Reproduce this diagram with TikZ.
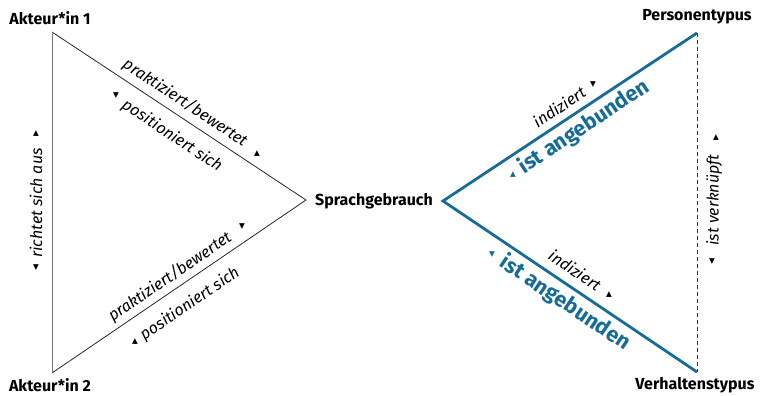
\documentclass[tikz,border=0pt]{standalone}
\usepackage{fontspec}
\setmainfont{Fira Sans}
\newfontfamily\symfont{DejaVu Sans}
\definecolor{linkblue}{RGB}{22,108,152}
\begin{document}
\begin{tikzpicture}[x=1pt,y=-1pt,
  vertex/.style={font=\bfseries\fontsize{16}{18}\selectfont, inner sep=0pt},
  thinedge/.style={draw=black!85, line width=0.8pt},
  blueedge/.style={draw=linkblue, line width=2.8pt},
  linkedge/.style={draw=black!80, line width=0.8pt, dash pattern=on 4pt off 3pt},
  rel/.style={font=\itshape\fontsize{16}{18}\selectfont, inner sep=0pt},
  bluerel/.style={font=\bfseries\fontsize{21.5}{24}\selectfont, text=linkblue, inner sep=0pt},
  tri/.style={font=\symfont\fontsize{7.5}{8}\selectfont, inner sep=0pt},
]
\useasboundingbox (0,0) rectangle (761,396);

% triangle corners
\coordinate (v1) at (52,32);
\coordinate (v2) at (52,373);
\coordinate (v3) at (306,200);
% angle corners
\coordinate (w0) at (443,201);
\coordinate (w1) at (697,33);
\coordinate (w2) at (697,372);

% actors and language use
\draw[thinedge] (v1) -- (v3) -- (v2);
\draw[draw=black!55, line width=0.9pt] (v1) -- (v2);

% person and behaviour types
\draw[linkedge] (w1) -- (w2);
\draw[blueedge, line join=miter] (w1) -- (w0) -- (w2);

% corner labels
\node[vertex] (a1) at (50,18) {Akteur*in 1};
\node[vertex] (a2) at (50,385) {Akteur*in 2};
\node[vertex] (sg) at (374,201) {Sprachgebrauch};
\node[vertex] (pt) at (697,17) {Personentypus};
\node[vertex] (vt) at (695,385) {Verhaltenstypus};

% upper left edge
\node[rel, rotate=-33.5] (ul1) at (185,103) {praktiziert/bewertet};
\node[tri] (ul1t) at (257,154) {▲};
\node[rel, rotate=-33.5] (ul2) at (172,136) {positioniert sich};
\node[tri] (ul2t) at (116,96) {▼};

% lower left edge
\node[rel, rotate=34.3] (ll1) at (170,277) {praktiziert/bewertet};
\node[tri] (ll1t) at (242,227) {▼};
\node[rel, rotate=34.3] (ll2) at (190,304) {positioniert sich};
\node[tri] (ll2t) at (135,342) {▲};

% left side
\node[rel, rotate=90] (ls) at (36,203) {richtet sich aus};
\node[tri] (lst) at (36,134) {▲};
\node[tri] (lsb) at (36,268) {▼};

% upper right edge
\node[rel, rotate=33.5] (ur1) at (559,107) {indiziert};
\node[tri] (ur1t) at (593,85) {▼};
\node[bluerel, rotate=33.5] (ur2) at (584,127) {ist angebunden};
\node[tri, text=linkblue] (ur2t) at (513,175) {▲};

% lower right edge
\node[rel, rotate=-34] (lr1) at (575,270) {indiziert};
\node[tri] (lr1t) at (609,295) {▲};
\node[bluerel, rotate=-34] (lr2) at (565,303) {ist angebunden};
\node[tri, text=linkblue] (lr2t) at (492,255) {▼};

% right side
\node[rel, rotate=90] (rs) at (714,200) {ist verknüpft};
\node[tri] (rst) at (716,138) {▲};
\node[tri] (rsb) at (712,262) {▼};
\end{tikzpicture}
\end{document}
